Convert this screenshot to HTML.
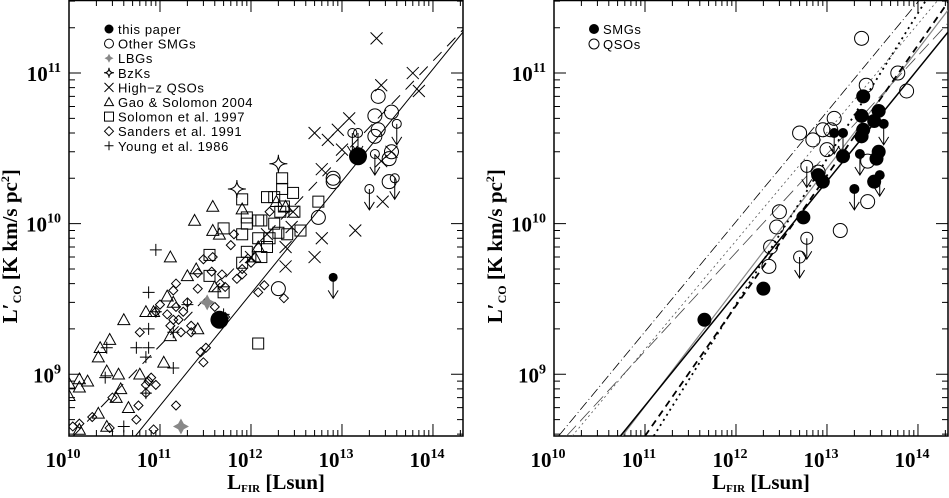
<!DOCTYPE html>
<html><head><meta charset="utf-8"><style>
html,body{margin:0;padding:0;background:#fff;overflow:hidden;}
svg{display:block;}
.tl{font-family:"Liberation Serif",serif;font-weight:bold;font-size:21px;fill:#000;}
.lg{font-family:"Liberation Sans",sans-serif;font-size:13px;fill:#000;letter-spacing:0.6px;}
</style></head><body>
<svg id="chart" width="949" height="498" viewBox="0 0 949 498" xmlns="http://www.w3.org/2000/svg"></svg>
<script>
// ---- data: [log10 LFIR, log10 L'CO] ----
const L = Math.log10;
const thisPaper = [[L(1.5e13),L(2.8e10)],[L(4.5e11),L(2.3e9)]];
const thisPaperLimits = [[L(8e12),L(4.4e9)]];
const lbgs = [[L(3.3e11),L(3.0e9)],[L(1.7e11),L(4.5e8)]];
const otherSmgs = [[L(2.5e13),L(7e10)],[L(2.3e13),L(5.2e10)],[L(3.5e13),L(5.5e10)],[L(2.5e13),L(4.2e10)],[L(2.3e13),L(3.8e10)],[L(3.5e13),L(3e10)],[L(3.3e13),L(2.7e10)],[L(3.3e13),L(1.9e10)],[L(5.5e12),L(1.1e10)],[L(2e12),L(3.7e9)],[L(8e12),L(2e10)],[L(8e12),L(1.9e10)]];
const otherSmgLimits = [[L(1.3e13),L(4e10)],[L(1.5e13),L(4e10)],[L(2.3e13),L(2.9e10)],[L(2e13),L(1.7e10)],[L(3.8e13),L(2e10)],[L(4e13),L(4.6e10)]];
const bzks = [[L(2e12),L(2.5e10)],[L(7e11),L(1.7e10)]];
const qsos = [[L(2.4e13),L(1.7e11)],[L(2.7e13),L(8.3e10)],[L(6e13),L(1e11)],[L(7e13),L(7.6e10)],[L(1.2e13),L(5e10)],[L(5e12),L(4e10)],[L(7e12),L(3.6e10)],[L(9e12),L(4.2e10)],[L(1e13),L(3.1e10)],[L(6e12),L(2.3e10)],[L(1.4e13),L(9e9)],[L(2.8e13),L(1.4e10)],[L(2.7e13),L(2.6e10)],[L(3.5e13),L(3e10)],[L(6e12),L(8e9)],[L(5e12),L(6e9)],[L(2.4e12),L(7e9)],[L(2.4e12),L(5.2e9)],[L(2.9e12),L(1.2e10)],[L(1.5e12),L(8.5e9)],[L(2.8e12),L(9.5e9)],[L(1e12),L(6e9)]];
const gao = [[L(1e10),L(8.7e8)],[L(1e10),L(7.2e8)],[L(1.3e10),L(9.3e8)],[L(1.3e10),L(8.2e8)],[L(1.6e10),L(9e8)],[L(2.2e10),L(1.5e9)],[L(2.1e10),L(1.3e9)],[L(2.8e10),L(1.7e9)],[L(2.6e10),L(1.05e9)],[L(3.5e10),L(1e9)],[L(4e10),L(2.3e9)],[L(3.7e10),L(8e8)],[L(3.3e10),L(7e8)],[L(4.5e10),L(6e8)],[L(2.1e10),L(5.5e8)],[L(2.6e10),L(4.5e8)],[L(7e10),L(2.6e9)],[L(8.5e10),L(2.6e9)],[L(1.2e11),L(3.3e9)],[L(1.3e11),L(6e9)],[L(2.4e11),L(1.05e10)],[L(3.8e11),L(1.3e10)],[L(3.8e11),L(9e9)],[L(4.5e11),L(8.5e9)],[L(8e11),L(1.25e10)],[L(2e11),L(4.5e9)],[L(2.5e11),L(5e9)],[L(1.3e11),L(1.8e9)],[L(1.1e11),L(1.2e9)],[L(1.3e10),L(4.3e8)],[L(6e10),L(1e9)],[L(1.1e12),L(6e9)],[L(1.2e12),L(7e9)],[L(1.4e11),L(3e9)],[L(2.6e11),L(2e9)],[L(4e11),L(3.8e9)],[L(1.9e12),L(1.4e10)],[L(2.4e12),L(1.3e10)]];
const solomon = [[L(8e11),L(1.45e10)],[L(9e11),L(1.1e10)],[L(9e11),L(1e10)],[L(8e11),L(8.5e9)],[L(9e11),L(6.5e9)],[L(8e11),L(5.5e9)],[L(1.2e12),L(1.05e10)],[L(1.3e12),L(1.05e10)],[L(1.2e12),L(8e9)],[L(1.3e12),L(6e9)],[L(1.5e12),L(7e9)],[L(1.5e12),L(1.5e10)],[L(1.8e12),L(1.5e10)],[L(2.2e12),L(2e10)],[L(2.2e12),L(1.7e10)],[L(2.1e12),L(1.2e10)],[L(2.3e12),L(1.3e10)],[L(2.5e12),L(8.5e9)],[L(2e12),L(8.7e9)],[L(2.9e12),L(1.6e10)],[L(3e12),L(1.2e10)],[L(3.5e12),L(9e9)],[L(5.5e12),L(1.4e10)],[L(5e11),L(9.3e9)],[L(3.5e11),L(6.2e9)],[L(3.5e11),L(4.5e9)],[L(5e11),L(3.5e9)],[L(1.2e12),L(1.6e9)],[L(1.6e12),L(8e9)],[L(1.8e12),L(1e10)]];
const sanders = [[L(1.1e10),L(4.5e8)],[L(1.3e10),L(4.7e8)],[L(1.8e10),L(5.2e8)],[L(2.8e10),L(4.4e8)],[L(3e10),L(7e8)],[L(5.8e10),L(6.2e8)],[L(5.5e10),L(5e8)],[L(7e10),L(7.5e8)],[L(7e10),L(8.5e8)],[L(7.5e10),L(9e8)],[L(8e10),L(9.5e8)],[L(9e10),L(8.5e8)],[L(8.5e10),L(4.3e8)],[L(6e10),L(1.9e9)],[L(9e10),L(2.6e9)],[L(1e11),L(2.9e9)],[L(1.2e11),L(2.5e9)],[L(1.3e11),L(2.1e9)],[L(1.4e11),L(2.3e9)],[L(1.5e11),L(2.8e9)],[L(1.6e11),L(2.3e9)],[L(1.7e11),L(1.9e9)],[L(1.4e11),L(3.6e9)],[L(1.5e11),L(4e9)],[L(1.8e11),L(2.6e9)],[L(2.2e11),L(2.1e9)],[L(2.2e11),L(1.9e9)],[L(2e11),L(3e9)],[L(2.6e11),L(4.7e9)],[L(2.6e11),L(3.7e9)],[L(3e11),L(5.8e9)],[L(2.8e11),L(1.4e9)],[L(3e11),L(1.2e9)],[L(3.2e11),L(1.5e9)],[L(3.8e11),L(6e9)],[L(3.7e11),L(4.8e9)],[L(4e11),L(2.8e9)],[L(4.6e11),L(4e9)],[L(4.8e11),L(4.6e9)],[L(5.2e11),L(3.8e9)],[L(6e11),L(7.2e9)],[L(6.5e11),L(8.5e9)],[L(7e11),L(4.3e9)],[L(8e11),L(5e9)],[L(8e11),L(4.6e9)],[L(1e12),L(5.5e9)],[L(1.4e12),L(3.9e9)],[L(1.2e12),L(3.5e9)],[L(1.5e11),L(6.2e8)],[L(2.3e12),L(3.2e9)],[L(1.6e12),L(1.2e10)],[L(5.2e11),L(2.4e9)]];
const young = [[L(9e10),L(6.7e9)],[L(7.5e10),L(3.5e9)],[L(7.5e10),L(2e9)],[L(9e10),L(2.6e9)],[L(5.5e10),L(1.5e9)],[L(7.5e10),L(1.5e9)],[L(2.6e10),L(1.5e9)],[L(7e10),L(1.3e9)],[L(1.4e11),L(1.1e9)],[L(2.5e10),L(9.5e8)],[L(4e10),L(4.5e8)],[L(7e10),L(7.5e8)],[L(1.4e11),L(1.9e9)],[L(5e11),L(2.5e9)],[L(2e11),L(2.9e9)]];
// right panel
const smgsR = [[L(4.5e11),L(2.3e9)],[L(2e12),L(3.7e9)],[L(5.5e12),L(1.1e10)],[L(8e12),L(2.1e10)],[L(9e12),L(1.9e10)],[L(1.5e13),L(2.8e10)],[L(2.5e13),L(7e10)],[L(2.4e13),L(5.2e10)],[L(3.7e13),L(5.6e10)],[L(3.3e13),L(4.8e10)],[L(2.5e13),L(4.2e10)],[L(2.4e13),L(3.8e10)],[L(3.7e13),L(3e10)],[L(3.5e13),L(2.7e10)],[L(3.3e13),L(1.9e10)]];
const smgsRLimits = [[L(1.2e13),L(4e10)],[L(1.5e13),L(4e10)],[L(2.3e13),L(2.9e10)],[L(2e13),L(1.7e10)],[L(3.8e13),L(2.1e10)],[L(4.2e13),L(4.6e10)]];
const qsosR = [[L(2.4e13),L(1.7e11)],[L(2.7e13),L(8.3e10)],[L(6e13),L(1e11)],[L(7.5e13),L(7.6e10)],[L(1.2e13),L(5e10)],[L(5e12),L(4e10)],[L(7e12),L(3.6e10)],[L(9e12),L(4.2e10)],[L(1e13),L(3.1e10)],[L(1.1e13),L(4.2e10)],[L(2.8e13),L(1.4e10)],[L(2.8e13),L(2.6e10)],[L(1.4e13),L(9e9)],[L(3e12),L(1.2e10)],[L(2.8e12),L(9.5e9)],[L(2.4e12),L(7e9)],[L(2.3e12),L(5.2e9)],[L(8e12),L(2.2e10)]];
const qsosRLimits = [[L(6e12),L(2.4e10)],[L(6e12),L(8e9)],[L(5e12),L(6e9)]];
// fit lines: [slope, intercept]
const leftFitSlopes = [0.745, 0.63];
const leftFitIntercepts = [0.596, 2.26];
const rightFitSlopes = [0.73, 0.72, 0.654, 0.79, 0.745, 0.865, 0.967];
const rightFitIntercepts = [1.253, 1.246, 1.96, 0.097, 0.596, -0.925, -2.14];
const xTickLabels = ["10","11","12","13","14"];
const yTickLabels = ["9","10","11"];

const NS="http://www.w3.org/2000/svg";
const svg=document.getElementById('chart');
function mk(tag,attrs,parent){const e=document.createElementNS(NS,tag);for(const k in attrs)e.setAttribute(k,attrs[k]);(parent||svg).appendChild(e);return e;}

const X0=10, X1=14.33, Y0=8.59, Y1=11.485, TOP=0, BOT=436;
function panel(left,right,name){
  const g=mk('g',{});
  
  
  const sx=v=>left+(v-X0)/(X1-X0)*(right-left);
  const sy=v=>BOT-(v-Y0)/(Y1-Y0)*(BOT-TOP);
  const fr=mk('rect',{x:left,y:TOP+0.5,width:right-left,height:BOT-TOP-0.5,fill:'none',stroke:'#000','stroke-width':1.5},g);
  
  
  let d='';
  for(let e=10;e<=14;e++)for(let m=1;m<10;m++){const v=e+L(m);if(v>X1)break;const x=sx(v);const len=m==1?12:6;d+=`M${x},${BOT}v${-len}M${x},${TOP}v${len}`;}
  for(let e=8;e<=11;e++)for(let m=1;m<10;m++){const v=e+L(m);if(v<Y0||v>Y1)continue;const y=sy(v);const len=m==1?12:6;d+=`M${left},${y}h${len}M${right},${y}h${-len}`;}
  const tk=mk('path',{d:d,stroke:'#000','stroke-width':1,fill:'none'},g);
  
  
  xTickLabels.forEach((t,i)=>{const x=sx(10+i);const tx=mk('text',{x:x-6,y:467,'text-anchor':'middle',class:'tl'},g);tx.innerHTML=`10<tspan dy="-9" font-size="14">${t}</tspan>`;
    
    });
  yTickLabels.forEach((t,i)=>{const y=sy(9+i);const tx=mk('text',{x:left-8,y:y+8,'text-anchor':'end',class:'tl'},g);tx.innerHTML=`10<tspan dy="-9" font-size="14">${t}</tspan>`;
    
    });
  const xt=mk('text',{x:(left+right)/2+10,y:489,'text-anchor':'middle',class:'tl'},g);
  xt.innerHTML='L<tspan font-size="11" dy="3">FIR</tspan><tspan dy="-3"> [Lsun]</tspan>';
  
  
  const yt=mk('text',{x:0,y:0,'text-anchor':'middle',class:'tl',transform:`translate(${left-52},${sy(9.85)}) rotate(-90)`},g);
  yt.innerHTML='L′<tspan font-size="12" dy="4">CO</tspan><tspan dy="-4"> [K km/s pc</tspan><tspan font-size="12" dy="-8">2</tspan><tspan dy="8">]</tspan>';
  
  
  const clip='clip'+left;
  const cp=mk('clipPath',{id:clip},g);mk('rect',{x:left,y:TOP,width:right-left,height:BOT-TOP},cp);
  const inner=mk('g',{'clip-path':`url(#${clip})`},g);
  return {sx,sy,g:inner};
}
function fitLine(p,slope,icpt,style,name){
  // clip endpoints to plot range
  let xa=X0, xb=X1;
  const xLo=(Y0-icpt)/slope, xHi=(Y1-icpt)/slope;
  xa=Math.max(xa,xLo); xb=Math.min(xb,xHi);
  const l=mk('line',Object.assign({x1:p.sx(xa),y1:p.sy(slope*xa+icpt),x2:p.sx(xb),y2:p.sy(slope*xb+icpt),fill:'none'},style),p.g);
  
  
}
function marker(g,type,x,y,s,name){
  let e;
  const st={stroke:'#000','stroke-width':1,fill:'none'};
  if(type==='fcircle')e=mk('circle',{cx:x,cy:y,r:s,fill:'#000'},g);
  else if(type==='circle')e=mk('circle',Object.assign({cx:x,cy:y,r:s,fill:'#fff'},st),g);
  else if(type==='cross')e=mk('path',Object.assign({d:`M${x-s},${y-s}L${x+s},${y+s}M${x-s},${y+s}L${x+s},${y-s}`},st),g);
  else if(type==='tri')e=mk('path',Object.assign({d:`M${x},${y-s}L${x+s},${y+s*0.8}L${x-s},${y+s*0.8}Z`},st),g);
  else if(type==='square')e=mk('rect',Object.assign({x:x-s,y:y-s,width:2*s,height:2*s},st),g);
  else if(type==='diamond')e=mk('path',Object.assign({d:`M${x},${y-s}L${x+s},${y}L${x},${y+s}L${x-s},${y}Z`},st),g);
  else if(type==='star')e=mk('path',Object.assign({d:`M${x},${y-s}Q${x},${y} ${x+s},${y}Q${x},${y} ${x},${y+s}Q${x},${y} ${x-s},${y}Q${x},${y} ${x},${y-s}Z`},st),g);
  else if(type==='gstar')e=mk('path',{d:`M${x},${y-s}L${x+s*0.35},${y-s*0.35}L${x+s},${y}L${x+s*0.35},${y+s*0.35}L${x},${y+s}L${x-s*0.35},${y+s*0.35}L${x-s},${y}L${x-s*0.35},${y-s*0.35}Z`,fill:'#888'},g);
  else if(type==='plus')e=mk('path',Object.assign({d:`M${x-s},${y}h${2*s}M${x},${y-s}v${2*s}`},st),g);
  
  
  return e;
}
function arrow(g,x,y){
  const a=mk('path',{d:`M${x},${y}v20M${x-5},${y+13}L${x},${y+21}L${x+5},${y+13}`,stroke:'#000','stroke-width':1,fill:'none'},g);
  
  
}
function series(p,arr,type,s,name,lim){
  arr.forEach(d=>{const x=p.sx(d[0]),y=p.sy(d[1]);if(lim)arrow(p.g,x,y);marker(p.g,type,x,y,s,name);});
}

// ---- left panel ----
const pl=panel(69,463,'left-panel');
fitLine(pl,leftFitSlopes[0],leftFitIntercepts[0],{stroke:'#000','stroke-width':1},'fit-line-solid');
fitLine(pl,leftFitSlopes[1],leftFitIntercepts[1],{stroke:'#000','stroke-width':1,'stroke-dasharray':'12,8'},'fit-line-dashed');
series(pl,sanders,'diamond',4.5,'sanders-point');
series(pl,gao,'tri',6,'gao-point');
series(pl,solomon,'square',5.5,'solomon-point');
series(pl,young,'plus',6,'young-point');
series(pl,qsos,'cross',6,'qso-point');
series(pl,bzks,'star',9,'bzk-point');
series(pl,lbgs,'gstar',8,'lbg-point');
series(pl,otherSmgs,'circle',7,'other-smg-point');
series(pl,otherSmgLimits,'circle',4.5,'other-smg-limit',true);
series(pl,thisPaperLimits,'fcircle',4.5,'this-paper-limit',true);
series(pl,thisPaper,'fcircle',9,'this-paper-point');
// legend left
const legItems=[['fcircle','this paper'],['circle','Other SMGs'],['gstar','LBGs'],['star','BzKs'],['cross','High−z QSOs'],['tri','Gao & Solomon 2004'],['square','Solomon et al. 1997'],['diamond','Sanders et al. 1991'],['plus','Young et al. 1986']];
const lgL=mk('g',{});


legItems.forEach((it,i)=>{const y=29+i*14.6;marker(lgL,it[0],109,y,it[0]==='star'?5:4.5,'legend-marker');
  const t=mk('text',{x:118,y:y+5,class:'lg'},lgL);t.textContent=it[1];
  
  });

// ---- right panel ----
const pr=panel(554,948,'right-panel');
const rStyles=[
 {stroke:'#000','stroke-width':0.8,'stroke-dasharray':'10,3,1,3'},
 {stroke:'#555','stroke-width':0.8,'stroke-dasharray':'2,3'},
 {stroke:'#444','stroke-width':0.8,'stroke-dasharray':'14,6'},
 {stroke:'#888','stroke-width':1.2},
 {stroke:'#000','stroke-width':1.5},
 {stroke:'#000','stroke-width':1.8,'stroke-dasharray':'7,5'},
 {stroke:'#000','stroke-width':1.8,'stroke-dasharray':'2,4'}];
rightFitSlopes.forEach((s,i)=>fitLine(pr,s,rightFitIntercepts[i],rStyles[i],'fit-line-'+(i+1)));
series(pr,qsosR,'circle',7,'qso-point');
series(pr,qsosRLimits,'circle',6,'qso-limit',true);
series(pr,smgsR,'fcircle',7,'smg-point');
series(pr,smgsRLimits,'fcircle',5,'smg-limit',true);
const lgR=mk('g',{});


[['fcircle','SMGs'],['circle','QSOs']].forEach((it,i)=>{const y=29+i*15;marker(lgR,it[0],594,y,5,'legend-marker');
  const t=mk('text',{x:603,y:y+5,class:'lg'},lgR);t.textContent=it[1];
  
  });
</script>
</body></html>
